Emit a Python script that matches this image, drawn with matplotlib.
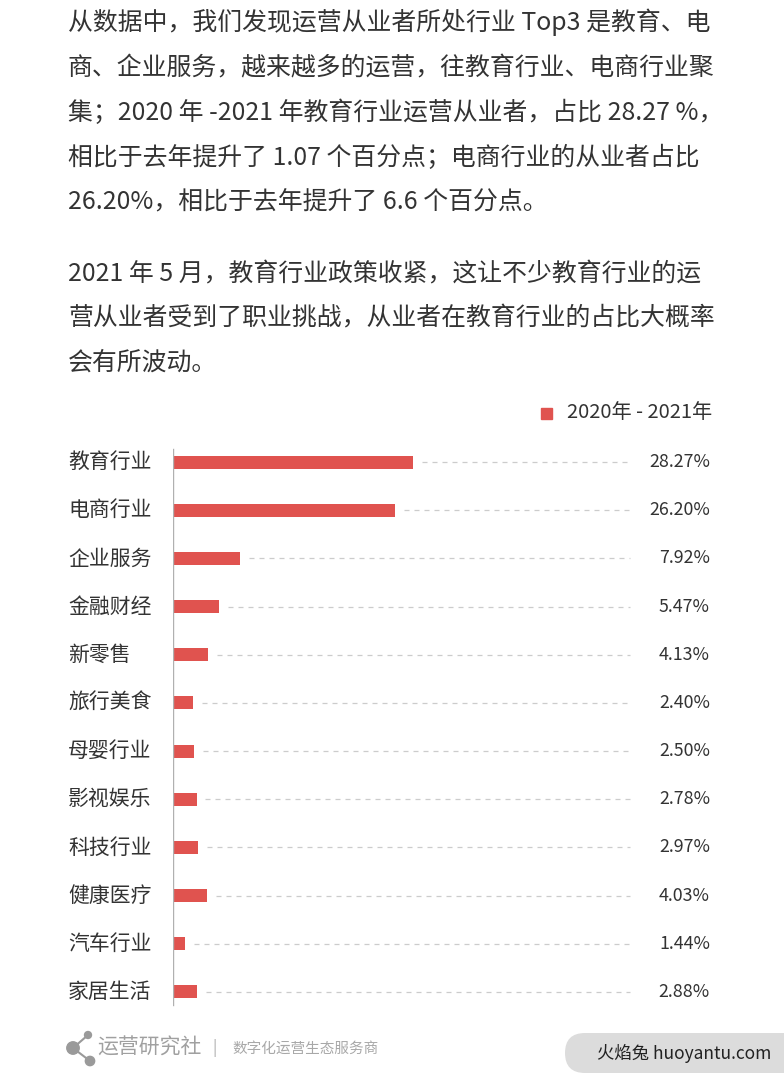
import matplotlib
matplotlib.use("Agg")
import matplotlib.pyplot as plt
import matplotlib.transforms as mtransforms
from matplotlib.patches import FancyBboxPatch, Rectangle

plt.rcParams['font.family'] = ['Noto Sans CJK SC', 'DejaVu Sans']

# data
industries = ["教育行业", "电商行业", "企业服务", "金融财经", "新零售", "旅行美食",
              "母婴行业", "影视娱乐", "科技行业", "健康医疗", "汽车行业", "家居生活"]
shares = [28.27, 26.20, 7.92, 5.47, 4.13, 2.40, 2.50, 2.78, 2.97, 4.03, 1.44, 2.88]
series_name = "2020年 - 2021年"

paragraph1 = [
    "从数据中，我们发现运营从业者所处行业 Top3 是教育、电",
    "商、企业服务，越来越多的运营，往教育行业、电商行业聚",
    "集；2020 年 -2021 年教育行业运营从业者，占比 28.27 %，",
    "相比于去年提升了 1.07 个百分点；电商行业的从业者占比",
    "26.20%，相比于去年提升了 6.6 个百分点。",
]
paragraph2 = [
    "2021 年 5 月，教育行业政策收紧，这让不少教育行业的运",
    "营从业者受到了职业挑战，从业者在教育行业的占比大概率",
    "会有所波动。",
]

W, H = 784, 1088
bar_color = "#e0534f"
text_color = "#333333"

fig = plt.figure(figsize=(W / 100, H / 100), dpi=100)
fig.patch.set_facecolor("white")

# overlay in pixel coordinates for text and decorations
ov = fig.add_axes([0, 0, 1, 1])
ov.set_xlim(0, W)
ov.set_ylim(H, 0)
ov.axis("off")

line_y1 = [22, 68, 113, 158, 203]
for s, y in zip(paragraph1, line_y1):
    ov.text(68, y, s, fontsize=17.9, color=text_color, va="center", ha="left")
line_y2 = [275, 319, 363]
for s, y in zip(paragraph2, line_y2):
    ov.text(68, y, s, fontsize=17.9, color=text_color, va="center", ha="left")

# bar chart axes: x from 173px, 8.49 px per percent
left_px, right_px = 173, 710
top_px, bot_px = 438, 1016
ax = fig.add_axes([left_px / W, 1 - bot_px / H, (right_px - left_px) / W, (bot_px - top_px) / H])
ax.set_xlim(0, (right_px - left_px) / 8.49)
ax.set_ylim(len(industries) - 0.5, -0.5)
ax.axis("off")

ypos = list(range(len(industries)))
ax.barh(ypos, shares, height=0.27, color=bar_color, zorder=3)
ax.plot([0, 0], [-0.27, len(industries) - 1 + 0.27], color="#b0b0b0", lw=1.0, zorder=4)

dash_end = (630 - left_px) / 8.49
xmax = ax.get_xlim()[1]
for y, v in zip(ypos, shares):
    ax.plot([v + 1.0, dash_end], [y, y], color="#cccccc", lw=0.9, ls=(0, (4, 4)), zorder=2)
    ax.text(xmax, y, f"{v:.2f}%", fontsize=12.8, color=text_color, ha="right", va="center")

trans = mtransforms.blended_transform_factory(fig.transFigure, ax.transData)
for y, name in zip(ypos, industries):
    ax.text(68 / W, y, name, transform=trans, fontsize=15, color=text_color,
            ha="left", va="center")

# legend
ov.add_patch(Rectangle((541, 408), 11, 11, color=bar_color))
ov.text(567, 413, series_name, fontsize=14.5, color=text_color, ha="left", va="center")

# footer logo
ov.plot([73, 88], [1048, 1035], color="#9a9a9a", lw=1.5)
ov.plot([73, 90], [1048, 1061], color="#9a9a9a", lw=1.5)
ov.scatter([73, 88, 90], [1048, 1035, 1061], s=[80, 25, 45], color="#9a9a9a", zorder=3)
ov.text(97, 1048, "运营研究社", fontsize=15, color="#a0a0a0", ha="left", va="center")
ov.text(215, 1048, "|", fontsize=11, color="#aaaaaa", ha="center", va="center")
ov.text(232, 1049, "数字化运营生态服务商", fontsize=10.5, color="#a8a8a8", ha="left", va="center")

# watermark
ov.add_patch(FancyBboxPatch((565, 1033), 250, 40, boxstyle="round,pad=0,rounding_size=20",
                            facecolor="#dcdcdc", edgecolor="none"))
ov.text(597, 1053, "火焰兔 huoyantu.com", fontsize=12.5, color="#222222", ha="left", va="center")

fig.savefig("out.png", dpi=100, facecolor="white")
